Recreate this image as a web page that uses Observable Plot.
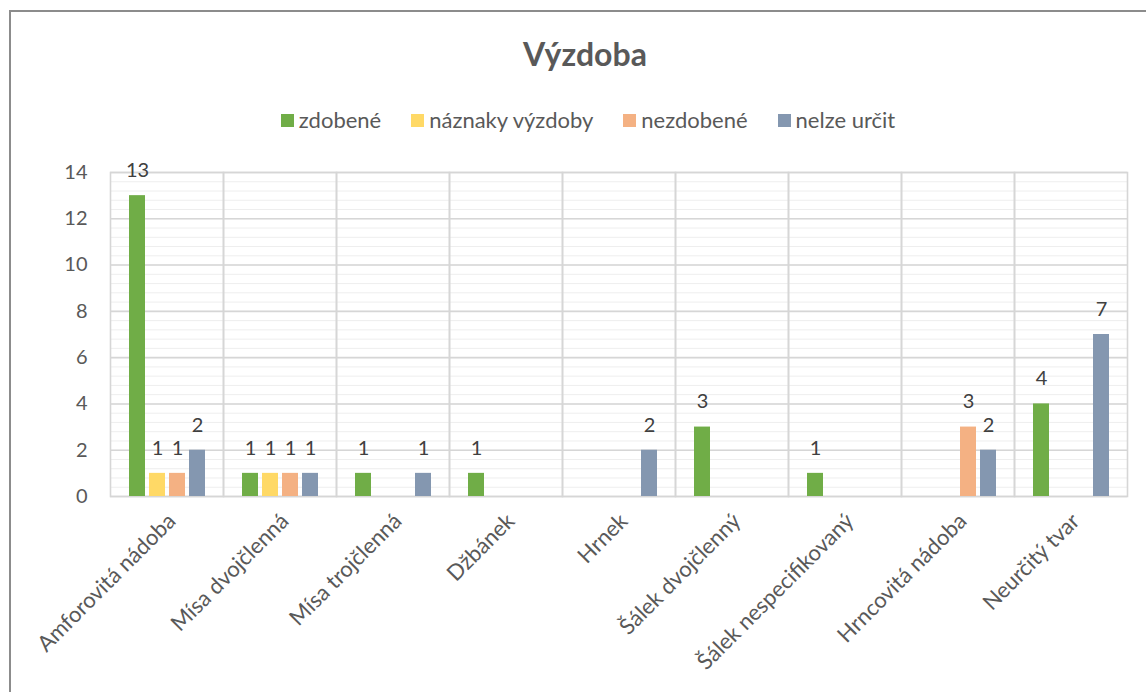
<!DOCTYPE html>
<html>
<head>
<meta charset="utf-8">
<script src="https://cdn.jsdelivr.net/npm/d3@7"></script>
<script src="https://cdn.jsdelivr.net/npm/@observablehq/plot@0.6"></script>
<style>
  body { margin: 0; background: #fff; font-family: Lato, "Open Sans", sans-serif; }
  #frame { position: absolute; left: 9px; top: 10px; width: 1300px; height: 900px;
           border-left: 2px solid #8c8c8c; border-top: 2px solid #8c8c8c; }
  #title { position: absolute; left: 0; top: 38px; width: 1170px; text-align: center;
           font: bold 32px Lato, sans-serif; line-height: 1; color: #595959; }
  #legend { position: absolute; left: 0; top: 109px; width: 1176px; display: flex;
            justify-content: center; align-items: center; font-size: 22px; line-height: 1; color: #595959; }
  .item { display: flex; align-items: center; margin: 0 15px; }
  .sw { width: 13px; height: 13px; margin-right: 5px; }
  #chart { position: absolute; left: 0; top: 140px; }
</style>
</head>
<body>
<div id="frame"></div>
<div id="title">Výzdoba</div>
<div id="legend"></div>
<div id="chart"></div>
<script>
const categories = ["Amforovitá nádoba", "Mísa dvojčlenná", "Mísa trojčlenná", "Džbánek", "Hrnek",
  "Šálek dvojčlenný", "Šálek nespecifikovaný", "Hrncovitá nádoba", "Neurčitý tvar"];
const seriesNames = ["zdobené", "náznaky výzdoby", "nezdobené", "nelze určit"];
const seriesColors = ["#70ad47", "#ffd966", "#f4b183", "#8497b0"];
const zdobene   = [13, 1, 1, 1, 0, 3, 1, 0, 4];
const naznaky   = [1, 1, 0, 0, 0, 0, 0, 0, 0];
const nezdobene = [1, 1, 0, 0, 0, 0, 0, 3, 0];
const nelze     = [2, 1, 1, 0, 2, 0, 0, 2, 7];
const yTicks = [0, 2, 4, 6, 8, 10, 12, 14];

const seriesValues = [zdobene, naznaky, nezdobene, nelze];
const rows = [];
categories.forEach((c, i) => {
  seriesNames.forEach((s, j) => {
    const v = seriesValues[j][i];
    if (v > 0) rows.push({category: c, series: s, value: v});
  });
});
const minorTicks = d3.range(0, 14.001, 0.4);

// legend
const legend = document.getElementById("legend");
seriesNames.forEach((s, j) => {
  const it = document.createElement("div");
  it.className = "item";
  it.innerHTML = `<div class="sw" style="background:${seriesColors[j]}"></div><span>${s}</span>`;
  legend.appendChild(it);
});

const chart = Plot.plot({
  width: 1146,
  height: 552,
  marginLeft: 110,
  marginRight: 19,
  marginTop: 32,
  marginBottom: 196,
  style: {fontFamily: "Lato, sans-serif", fontSize: "20px", background: "transparent"},
  fx: {domain: categories, padding: 0, label: null},
  x: {domain: seriesNames, paddingInner: 0.21, paddingOuter: 0.89, axis: null},
  y: {domain: [0, 14], axis: null},
  color: {domain: seriesNames, range: seriesColors},
  marks: [
    Plot.ruleY(minorTicks, {stroke: "#eeeeee", strokeWidth: 1}),
    Plot.ruleY(yTicks, {stroke: "#d6d6d6", strokeWidth: 1.6}),
    Plot.frame({stroke: "#d6d6d6", strokeWidth: 1.6}),
    Plot.barY(rows, {fx: "category", x: "series", y: "value", fill: "series"}),
    Plot.text(rows, {fx: "category", x: "series", y: "value", text: d => String(d.value),
      dy: -25, fill: "#404040", fontSize: 20}),
    Plot.axisY({ticks: yTicks, tickSize: 0, tickPadding: 23, label: null, fill: "#595959", fontSize: 20}),
    Plot.axisFx({anchor: "bottom", tickRotate: -45, tickSize: 0, tickPadding: 21, dx: 5, label: null,
      textAnchor: "end", lineAnchor: "middle", fill: "#595959", fontSize: 22})
  ]
});
document.getElementById("chart").appendChild(chart);
</script>
</body>
</html>
